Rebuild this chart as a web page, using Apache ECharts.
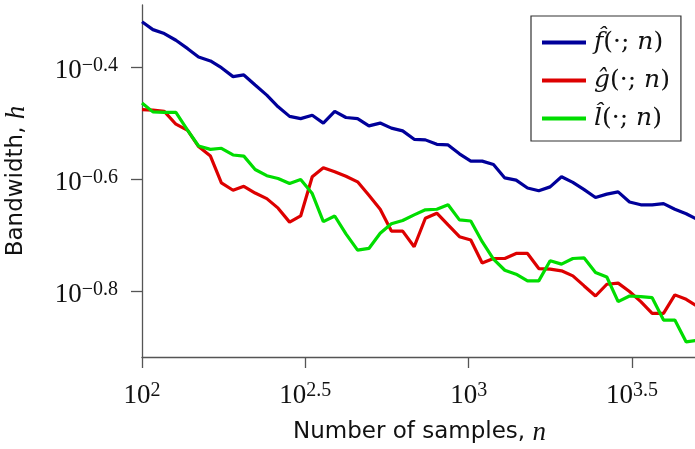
<!DOCTYPE html>
<html>
<head>
<meta charset="utf-8">
<script src="https://cdn.jsdelivr.net/npm/echarts@6/dist/echarts.min.js"></script>
<style>html,body{margin:0;padding:0;background:#fff}#c{width:695px;height:449px}</style>
</head>
<body>
<div id="c"></div>
<script>
// Number of samples n (x values)
const nSamples = [100,108,117,127,138,149,162,175,190,205,222,241,261,283,306,332,359,389,421,457,495,536,580,628,681,737,799,865,937,1015,1100,1191,1290,1397,1514,1639,1776,1924,2084,2257,2445,2648,2868,3107,3365,3645,3949,4277,4633,5000];
// log10 of bandwidth h for each estimator
const fLog10 = [-0.319,-0.333,-0.340,-0.352,-0.367,-0.382,-0.389,-0.401,-0.417,-0.414,-0.432,-0.450,-0.471,-0.488,-0.492,-0.486,-0.500,-0.479,-0.490,-0.492,-0.505,-0.500,-0.509,-0.514,-0.529,-0.530,-0.538,-0.539,-0.555,-0.568,-0.568,-0.574,-0.598,-0.602,-0.616,-0.621,-0.614,-0.596,-0.606,-0.619,-0.633,-0.627,-0.623,-0.641,-0.646,-0.646,-0.644,-0.654,-0.662,-0.672];
const gLog10 = [-0.476,-0.477,-0.479,-0.502,-0.513,-0.542,-0.559,-0.607,-0.620,-0.613,-0.625,-0.635,-0.652,-0.677,-0.666,-0.596,-0.580,-0.587,-0.595,-0.605,-0.629,-0.654,-0.693,-0.693,-0.721,-0.670,-0.661,-0.682,-0.703,-0.709,-0.750,-0.742,-0.742,-0.733,-0.733,-0.760,-0.761,-0.764,-0.773,-0.791,-0.809,-0.788,-0.786,-0.801,-0.819,-0.840,-0.840,-0.807,-0.815,-0.827];
const lLog10 = [-0.464,-0.480,-0.481,-0.481,-0.513,-0.541,-0.547,-0.545,-0.557,-0.559,-0.583,-0.594,-0.599,-0.608,-0.601,-0.626,-0.676,-0.666,-0.698,-0.727,-0.724,-0.697,-0.680,-0.674,-0.664,-0.655,-0.654,-0.646,-0.673,-0.675,-0.712,-0.743,-0.763,-0.770,-0.782,-0.782,-0.746,-0.752,-0.742,-0.741,-0.767,-0.775,-0.819,-0.809,-0.810,-0.812,-0.852,-0.852,-0.891,-0.888];
const seriesNames = ['f\u0302(·; n)', 'g\u0302(·; n)', 'l\u0302(·; n)'];
const seriesColors = ['#00009a', '#dd0000', '#00dd00'];
const xTickExps = [2, 2.5, 3, 3.5];
const yTickExps = [-0.8, -0.6, -0.4];

const chart = echarts.init(document.getElementById('c'), null, {renderer: 'canvas'});
const toPts = arr => arr.map((v, i) => [Math.log10(nSamples[i]), v]);
const allData = [fLog10, gLog10, lLog10];
const mathFont = 'Liberation Serif';
const legendFont = 'DejaVu Serif';
const supLabel = v => {
  const e = Math.round(v * 10) / 10;
  const s = (e < 0 ? '\u2212' + (-e) : String(e));
  return '{b|10}{s|' + s + '}';
};
const labelRich = {
  b: {fontFamily: mathFont, fontSize: 27, color: '#111', lineHeight: 30},
  s: {fontFamily: mathFont, fontSize: 20, color: '#111', verticalAlign: 'top', lineHeight: 20}
};
const legendRich = {
  it: {fontFamily: legendFont, fontStyle: 'italic', fontSize: 25, color: '#111', lineHeight: 28},
  rm: {fontFamily: legendFont, fontSize: 25, color: '#111', lineHeight: 28}
};
const axisLineStyle = {color: '#555', width: 1.3};

chart.setOption({
  animation: false,
  grid: {left: 142, right: -2, top: 5, bottom: 92, containLabel: false, outerBoundsMode: 'none'},
  xAxis: {
    type: 'value', min: 2, max: Math.log10(5000),
    splitLine: {show: false},
    axisLine: {show: true, lineStyle: axisLineStyle},
    axisTick: {show: true, inside: false, length: 11, lineStyle: axisLineStyle, customValues: xTickExps},
    axisLabel: {margin: 24, customValues: xTickExps, formatter: supLabel, rich: labelRich},
    name: '{t|Number of samples, }{m|n}',
    nameLocation: 'middle', nameGap: 62,
    nameTextStyle: {rich: {
      t: {fontFamily: 'DejaVu Sans', fontSize: 23, color: '#111'},
      m: {fontFamily: mathFont, fontStyle: 'italic', fontSize: 27, color: '#111'}
    }}
  },
  yAxis: {
    type: 'value', min: -0.918, max: -0.289,
    splitLine: {show: false},
    axisLine: {show: true, lineStyle: axisLineStyle},
    axisTick: {show: true, inside: false, length: 11, lineStyle: axisLineStyle, customValues: yTickExps},
    axisLabel: {margin: 24, customValues: yTickExps, formatter: supLabel, rich: labelRich, padding: [7, 0, 0, 0]},
    name: '{t|Bandwidth, }{m|h}',
    nameLocation: 'middle', nameGap: 112, nameRotate: 90,
    nameTextStyle: {rich: {
      t: {fontFamily: 'DejaVu Sans', fontSize: 23, color: '#111'},
      m: {fontFamily: mathFont, fontStyle: 'italic', fontSize: 27, color: '#111'}
    }}
  },
  legend: {
    orient: 'vertical', left: 531, top: 16,
    padding: [14, 11, 10, 11], itemGap: 13,
    borderColor: '#333', borderWidth: 1.2, backgroundColor: '#fff',
    icon: 'rect', itemWidth: 44, itemHeight: 4,
    data: seriesNames,
    formatter: name => {
      const m = name.match(/^(.\u0302)\(·; n\)$/);
      return '{it|' + m[1] + '}{rm|(·; }{it|n}{rm|)}';
    },
    textStyle: {rich: legendRich, padding: [0, 0, 0, 3]}
  },
  series: allData.map((arr, k) => ({
    name: seriesNames[k], type: 'line', data: toPts(arr),
    symbol: 'none', lineStyle: {color: seriesColors[k], width: 3.2},
    itemStyle: {color: seriesColors[k]}, clip: true
  }))
});
</script>
</body>
</html>
